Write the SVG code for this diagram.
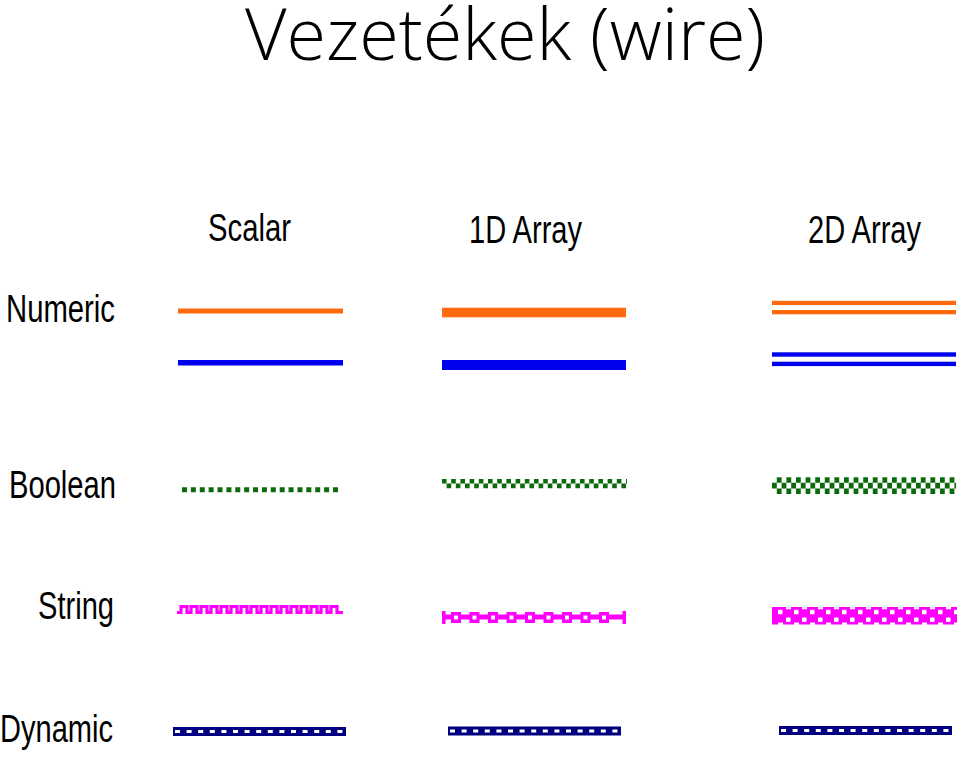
<svg xmlns="http://www.w3.org/2000/svg" width="960" height="763" viewBox="0 0 960 763">
<style>
.lbl{font-family:"Liberation Sans",Arial,sans-serif;font-size:38px;fill:#000}
.title{font-family:"Open Sans","Liberation Sans",sans-serif;font-weight:300;font-size:72px;fill:#000}
.or{fill:#FF6A0E}
.bl{fill:#0000F0}
.gr{stroke:#0B6B0B;fill:none}
.mg{fill:#FF00FF}
.nv{fill:#000080}
.dash{stroke:#fff;stroke-width:3;fill:none;stroke-dasharray:5 6.6}
</style>
<rect width="960" height="763" fill="#fff"/>
<text id="title" class="title" x="245" y="60" textLength="520" lengthAdjust="spacingAndGlyphs">Vezetékek (wire)</text>
<g id="headers">
<text class="lbl" x="208" y="241" textLength="83" lengthAdjust="spacingAndGlyphs">Scalar</text>
<text class="lbl" x="469" y="243" textLength="113" lengthAdjust="spacingAndGlyphs">1D Array</text>
<text class="lbl" x="808" y="243" textLength="113" lengthAdjust="spacingAndGlyphs">2D Array</text>
<text class="lbl" x="6" y="322" textLength="109" lengthAdjust="spacingAndGlyphs">Numeric</text>
<text class="lbl" x="9" y="498" textLength="107" lengthAdjust="spacingAndGlyphs">Boolean</text>
<text class="lbl" x="38" y="619" textLength="76" lengthAdjust="spacingAndGlyphs">String</text>
<text class="lbl" x="0" y="742" textLength="113" lengthAdjust="spacingAndGlyphs">Dynamic</text>
</g>
<g id="numeric">
<rect class="or" x="178" y="308.5" width="165" height="5"/>
<rect class="bl" x="178" y="360" width="165" height="5.5"/>
<rect class="or" x="442" y="307.7" width="184" height="9.6"/>
<rect class="bl" x="442" y="360" width="184" height="10"/>
<rect class="or" x="772" y="300.8" width="184" height="4.3"/>
<rect class="or" x="772" y="310" width="184" height="4.3"/>
<rect class="bl" x="772" y="352.3" width="184" height="4.4"/>
<rect class="bl" x="772" y="361.7" width="184" height="4.4"/>
</g>
<g id="boolean">
<line class="gr" x1="182" y1="489.8" x2="338.5" y2="489.8" stroke-width="5" stroke-dasharray="5 3.88"/>
<line class="gr" x1="442" y1="481.3" x2="627" y2="481.3" stroke-width="4.6" stroke-dasharray="4.6 4.6"/>
<line class="gr" x1="442" y1="485.9" x2="627" y2="485.9" stroke-width="4.6" stroke-dasharray="4.6 4.6" stroke-dashoffset="4.6"/>
<line class="gr" x1="772" y1="480" x2="956" y2="480" stroke-width="5.6" stroke-dasharray="4.8 4.8" stroke-dashoffset="4.8"/>
<line class="gr" x1="772" y1="485.6" x2="956" y2="485.6" stroke-width="5.6" stroke-dasharray="4.8 4.8"/>
<line class="gr" x1="772" y1="491.2" x2="956" y2="491.2" stroke-width="5.6" stroke-dasharray="4.8 4.8" stroke-dashoffset="4.8"/>
</g>
<g id="string">
<path d="M177,612.5 H181 V606.5 H187 V612.5 H191 V606.5 H197 V612.5 H201 V606.5 H207 V612.5 H211 V606.5 H217 V612.5 H221 V606.5 H227 V612.5 H231 V606.5 H237 V612.5 H241 V606.5 H247 V612.5 H251 V606.5 H257 V612.5 H261 V606.5 H267 V612.5 H271 V606.5 H277 V612.5 H281 V606.5 H287 V612.5 H291 V606.5 H297 V612.5 H301 V606.5 H307 V612.5 H311 V606.5 H317 V612.5 H321 V606.5 H327 V612.5 H331 V606.5 H337 V612.5 H343" fill="none" stroke="#FF00FF" stroke-width="3.2"/>
<g class="mg">
<rect x="442" y="614.5" width="184" height="5"/>
<rect x="442" y="611" width="3.5" height="13"/>
<rect x="622.5" y="611" width="3.5" height="13"/>
<rect x="451" y="612" width="10" height="11"/><rect x="469.5" y="612" width="10" height="11"/><rect x="488" y="612" width="10" height="11"/><rect x="506.5" y="612" width="10" height="11"/><rect x="525" y="612" width="10" height="11"/><rect x="543.5" y="612" width="10" height="11"/><rect x="562" y="612" width="10" height="11"/><rect x="580.5" y="612" width="10" height="11"/><rect x="599" y="612" width="10" height="11"/>
</g>
<g fill="#fff">
<rect x="454" y="615.5" width="4" height="4"/><rect x="472.5" y="615.5" width="4" height="4"/><rect x="491" y="615.5" width="4" height="4"/><rect x="509.5" y="615.5" width="4" height="4"/><rect x="528" y="615.5" width="4" height="4"/><rect x="546.5" y="615.5" width="4" height="4"/><rect x="565" y="615.5" width="4" height="4"/><rect x="583.5" y="615.5" width="4" height="4"/><rect x="602" y="615.5" width="4" height="4"/>
</g>
<rect class="mg" x="772" y="607" width="185" height="17.5"/>
<line x1="778" y1="612" x2="957" y2="612" stroke="#fff" stroke-width="4.5" stroke-dasharray="4.5 11.5"/>
<line x1="786" y1="619.8" x2="957" y2="619.8" stroke="#fff" stroke-width="4.5" stroke-dasharray="4.5 11.5"/>
<line x1="786" y1="608" x2="957" y2="608" stroke="#fff" stroke-width="2.5" stroke-dasharray="5 11"/>
<line x1="778" y1="623.8" x2="957" y2="623.8" stroke="#fff" stroke-width="2.5" stroke-dasharray="5 11"/>
</g>
<g id="dynamic">
<rect class="nv" x="173" y="727" width="173" height="9"/>
<line class="dash" x1="175" y1="731.5" x2="343" y2="731.5"/>
<rect class="nv" x="448" y="726.5" width="173" height="9"/>
<line class="dash" x1="450" y1="731" x2="618" y2="731"/>
<rect class="nv" x="779" y="726" width="173" height="9"/>
<line class="dash" x1="781" y1="730.5" x2="949" y2="730.5"/>
</g>
</svg>
